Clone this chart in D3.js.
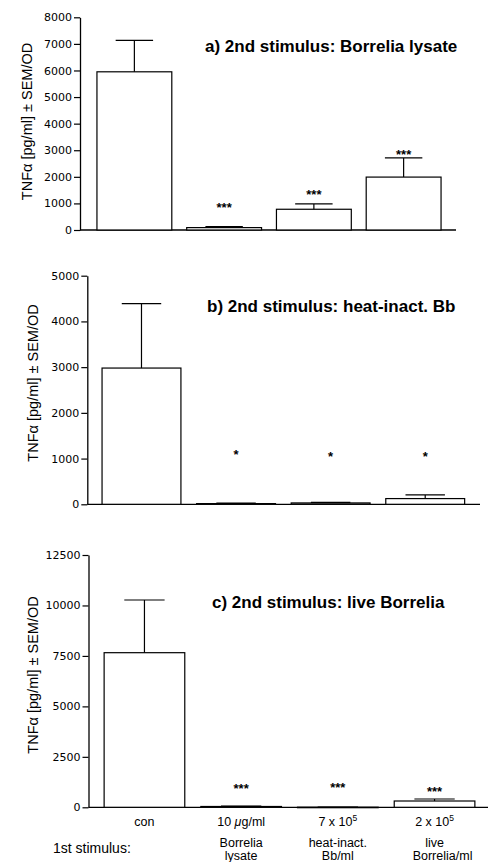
<!DOCTYPE html>
<html><head><meta charset="utf-8">
<script src="https://cdn.jsdelivr.net/npm/d3@7"></script>
<style>
html,body{margin:0;padding:0;background:#fff;}
svg{display:block;}
</style></head>
<body>
<svg id="chart" width="488" height="862"></svg>
<script>
// ---- data ----
const categories = ["con", "lysate", "heatinact", "live"];
const titles = ["a) 2nd stimulus: Borrelia lysate", "b) 2nd stimulus: heat-inact. Bb", "c) 2nd stimulus: live Borrelia"];
const meanA = [5950, 90, 780, 1990];
const semA  = [1180, 35, 200, 720];
const meanB = [2980, 15, 30, 125];
const semB  = [1410, 10, 10, 80];
const meanC = [7660, 40, 5, 312];
const semC  = [2610, 15, 5, 100];
const sigA = ["", "***", "***", "***"];
const sigB = ["", "*", "*", "*"];
const sigC = ["", "***", "***", "***"];
const sigLevelA = [0, 966, 1466, 2970];
const sigLevelB = [0, 1153, 1103, 1103];
const sigLevelC = [0, 1070, 1105, 956];
const ticksA = [0, 1000, 2000, 3000, 4000, 5000, 6000, 7000, 8000];
const ticksB = [0, 1000, 2000, 3000, 4000, 5000];
const ticksC = [0, 2500, 5000, 7500, 10000, 12500];
const yLabel = "TNFα [pg/ml] ± SEM/OD";
const xLine1 = ["con", "10 μg/ml", "7 x 10", "2 x 10"];
const xLine1Sup = ["", "", "5", "5"];
const xLine2 = ["", "Borrelia", "heat-inact.", "live"];
const xLine3 = ["", "lysate", "Bb/ml", "Borrelia/ml"];
const firstStimLabel = "1st stimulus:";

// ---- layout ----
const panels = [
  {mean: meanA, sem: semA, sig: sigA, sigLevel: sigLevelA, ticks: ticksA, title: titles[0],
   yBottom: 230, yTop: 17.3, axisX: 80, axisRight: 456, band: [89.5, 448.5],
   titleX: 205, titleY: 51.7, labelX: 31.7, labelY: 121.5},
  {mean: meanB, sem: semB, sig: sigB, sigLevel: sigLevelB, ticks: ticksB, title: titles[1],
   yBottom: 504.3, yTop: 275.7, axisX: 87.3, axisRight: 480, band: [94.2, 472.5],
   titleX: 207, titleY: 311.7, labelX: 37.5, labelY: 383},
  {mean: meanC, sem: semC, sig: sigC, sigLevel: sigLevelC, ticks: ticksC, title: titles[2],
   yBottom: 807.3, yTop: 555, axisX: 88.5, axisRight: 488, band: [96.1, 482.9],
   titleX: 212, titleY: 608.3, labelX: 37.5, labelY: 675}
];

const svg = d3.select("#chart");
const sans = "'Liberation Sans', Arial, Helvetica, sans-serif";
let lastX = null;

panels.forEach((p, pi) => {
  const maxV = d3.max(p.ticks);
  const y = d3.scaleLinear().domain([0, maxV]).range([p.yBottom, p.yTop]);
  const x = d3.scaleBand().domain(categories).range(p.band).paddingInner(0.166).paddingOuter(0.083);
  const bw = x.bandwidth();
  const g = svg.append("g");

  // y axis
  const yAxis = d3.axisLeft(y).tickValues(p.ticks).tickFormat(d3.format("d"))
    .tickSize(6).tickSizeOuter(0).tickPadding(2);
  const ag = g.append("g").attr("transform", `translate(${p.axisX},0)`).call(yAxis);
  ag.selectAll("text").attr("font-family", "'DejaVu Sans', sans-serif").attr("font-size", 11).attr("fill", "#000");
  ag.selectAll("line").attr("stroke", "#000").attr("stroke-width", 1.2);
  ag.select(".domain").attr("stroke", "#000").attr("stroke-width", 1.3);

  // x axis baseline
  g.append("line").attr("x1", p.axisX).attr("x2", p.axisRight)
    .attr("y1", y(0)).attr("y2", y(0)).attr("stroke", "#000").attr("stroke-width", 1.3);

  // bars
  g.selectAll("rect.bar").data(categories).enter().append("rect")
    .attr("class", "bar")
    .attr("x", d => x(d))
    .attr("y", (d, i) => y(p.mean[i]))
    .attr("width", bw)
    .attr("height", (d, i) => Math.max(0.5, y(0) - y(p.mean[i])))
    .attr("fill", "#fff").attr("stroke", "#000").attr("stroke-width", 1.2);

  // error bars
  categories.forEach((c, i) => {
    const cx = x(c) + bw / 2;
    const y1 = y(p.mean[i]), y2 = y(p.mean[i] + p.sem[i]);
    g.append("line").attr("x1", cx).attr("x2", cx).attr("y1", y1).attr("y2", y2)
      .attr("stroke", "#000").attr("stroke-width", 1.2);
    g.append("line").attr("x1", cx - bw / 4).attr("x2", cx + bw / 4).attr("y1", y2).attr("y2", y2)
      .attr("stroke", "#000").attr("stroke-width", 1.2);
    if (p.sig[i]) {
      g.append("text").attr("x", cx).attr("y", y(p.sigLevel[i]) + 7.5)
        .attr("text-anchor", "middle").attr("font-family", sans)
        .attr("font-weight", "bold").attr("font-size", 13).text(p.sig[i]);
    }
  });

  // title
  g.append("text").attr("x", p.titleX).attr("y", p.titleY)
    .attr("font-family", sans).attr("font-weight", "bold").attr("font-size", 17)
    .text(p.title);

  // y label
  g.append("text").attr("transform", `translate(${p.labelX},${p.labelY}) rotate(-90)`)
    .attr("text-anchor", "middle").attr("font-family", sans).attr("font-size", 14.5)
    .text(yLabel);

  lastX = x;
});

// x category labels under last panel
const x = lastX, bw = x.bandwidth();
categories.forEach((c, i) => {
  const cx = x(c) + bw / 2;
  const t1 = svg.append("text").attr("x", cx).attr("y", 826).attr("text-anchor", "middle")
    .attr("font-family", sans).attr("font-size", 12.5);
  if (i === 1) {
    t1.append("tspan").text("10 ");
    t1.append("tspan").attr("font-style", "italic").text("μ");
    t1.append("tspan").text("g/ml");
  } else {
    t1.append("tspan").text(xLine1[i]);
    if (xLine1Sup[i]) t1.append("tspan").attr("font-size", 8.5).attr("dy", -5).text(xLine1Sup[i]);
  }
  if (xLine2[i]) svg.append("text").attr("x", cx).attr("y", 847).attr("text-anchor", "middle")
    .attr("font-family", sans).attr("font-size", 12.5).text(xLine2[i]);
  if (xLine3[i]) svg.append("text").attr("x", cx + (i === 3 ? 8 : 0)).attr("y", 860).attr("text-anchor", "middle")
    .attr("font-family", sans).attr("font-size", 12.5).text(xLine3[i]);
});
svg.append("text").attr("x", 53).attr("y", 853).attr("font-family", sans).attr("font-size", 14)
  .text(firstStimLabel);
</script>
</body></html>
